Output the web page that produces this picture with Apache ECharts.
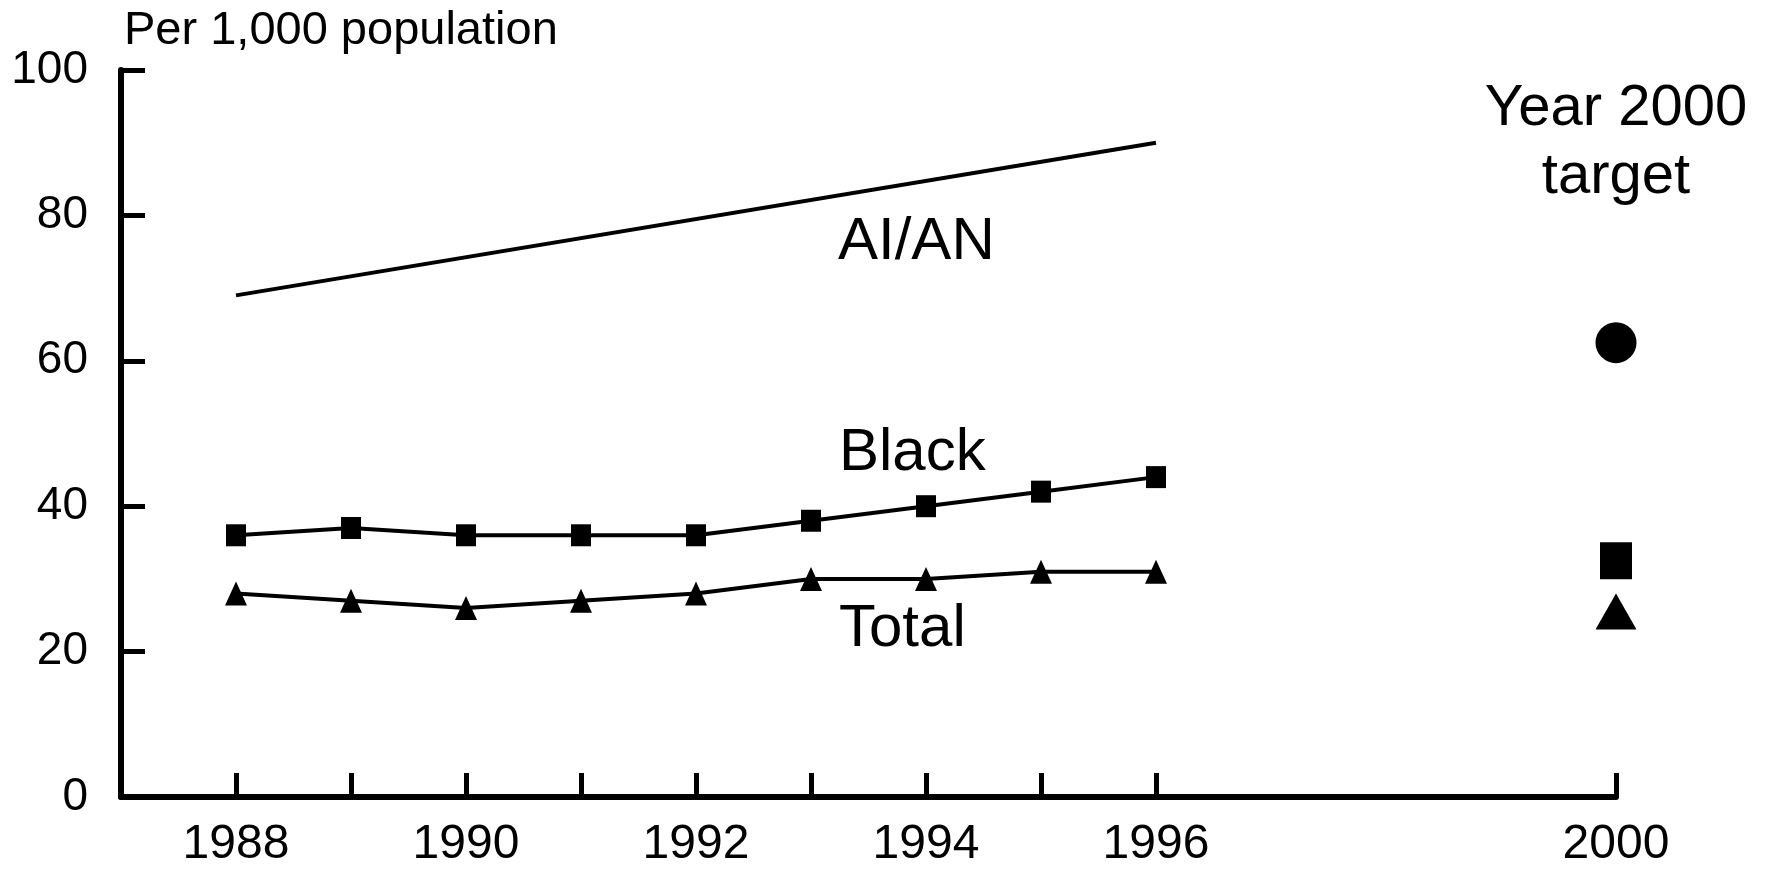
<!DOCTYPE html>
<html>
<head>
<meta charset="utf-8">
<script src="https://cdn.jsdelivr.net/npm/echarts@6/dist/echarts.min.js"></script>
<style>
html,body{margin:0;padding:0;background:#fff;}
#chart{width:1767px;height:869px;}
</style>
</head>
<body>
<div id="chart"></div>
<script>
// ---- data ----
const categories = ['1987','1988','1989','1990','1991','1992','1993','1994','1995','1996','1997','1998','1999','2000'];
const tickedYears = ['1988','1989','1990','1991','1992','1993','1994','1995','1996','2000'];
const labeledYears = ['1988','1990','1992','1994','1996','2000'];
const trendYears = ['1988','1989','1990','1991','1992','1993','1994','1995','1996'];
const blackRates = [36, 37, 36, 36, 36, 38, 40, 42, 44];
const totalRates = [28, 27, 26, 27, 28, 30, 30, 31, 31];
const aianYears = ['1988', '1996'];
const aianRates = [69, 90];
const targetYear = '2000';
const targetGroups = ['AI/AN', 'Black', 'Total'];
const targetValues = [62.5, 32.5, 25.5];
const yTicks = [0, 20, 40, 60, 80, 100];

const FONT = '"Liberation Sans", Arial, sans-serif';
const chart = echarts.init(document.getElementById('chart'));

const option = {
  backgroundColor: '#ffffff',
  animation: false,
  grid: { left: 121, right: 151, top: 70, bottom: 72, containLabel: false },
  xAxis: {
    type: 'category',
    data: categories,
    boundaryGap: false,
    axisLine: { show: true, lineStyle: { color: '#000', width: 6 } },
    axisTick: {
      show: true, inside: true, length: 24,
      interval: (i, v) => tickedYears.includes(v),
      lineStyle: { color: '#000', width: 5 }
    },
    axisLabel: {
      interval: (i, v) => labeledYears.includes(v),
      color: '#000', fontSize: 48, fontFamily: FONT, margin: 24
    },
    splitLine: { show: false }
  },
  yAxis: {
    type: 'value',
    min: yTicks[0], max: yTicks[yTicks.length - 1], interval: 20,
    axisLine: { show: true, lineStyle: { color: '#000', width: 6 } },
    axisTick: { show: true, inside: true, length: 24, lineStyle: { color: '#000', width: 5 } },
    axisLabel: { color: '#000', fontSize: 46, fontFamily: FONT, margin: 33 },
    splitLine: { show: false }
  },
  series: [
    {
      name: 'AI/AN', type: 'line',
      data: aianYears.map((y, i) => [y, aianRates[i]]),
      showSymbol: false, symbol: 'none',
      lineStyle: { color: '#000', width: 4 }
    },
    {
      name: 'Black', type: 'line',
      data: trendYears.map((y, i) => [y, blackRates[i]]),
      symbol: 'rect', symbolSize: [20, 22],
      itemStyle: { color: '#000', opacity: 1 },
      lineStyle: { color: '#000', width: 4 }
    },
    {
      name: 'Total', type: 'line',
      data: trendYears.map((y, i) => [y, totalRates[i]]),
      symbol: 'triangle', symbolSize: [22, 24],
      itemStyle: { color: '#000', opacity: 1 },
      lineStyle: { color: '#000', width: 4 }
    },
    {
      name: 'Target', type: 'scatter',
      data: targetGroups.map((g, i) => ({
        value: [targetYear, targetValues[i]],
        symbol: ['circle', 'rect', 'triangle'][i],
        symbolSize: [[41, 41], [32, 37], [41, 36]][i]
      })),
      itemStyle: { color: '#000', opacity: 1 }
    }
  ],
  graphic: [
    { type: 'text', left: 124, top: 8, style: { text: 'Per 1,000 population', fontSize: 47, fontFamily: FONT, fill: '#000' } },
    { type: 'text', x: 838, y: 242, style: { text: 'AI/AN', fontSize: 60, fontFamily: FONT, fill: '#000', align: 'left', verticalAlign: 'middle' } },
    { type: 'text', x: 839, y: 453, style: { text: 'Black', fontSize: 60, fontFamily: FONT, fill: '#000', align: 'left', verticalAlign: 'middle' } },
    { type: 'text', x: 839, y: 629, style: { text: 'Total', fontSize: 60, fontFamily: FONT, fill: '#000', align: 'left', verticalAlign: 'middle' } },
    { type: 'text', x: 1616, y: 109, style: { text: 'Year 2000', fontSize: 58, fontFamily: FONT, fill: '#000', align: 'center', verticalAlign: 'middle' } },
    { type: 'text', x: 1616, y: 177, style: { text: 'target', fontSize: 58, fontFamily: FONT, fill: '#000', align: 'center', verticalAlign: 'middle' } }
  ]
};
chart.setOption(option);
</script>
</body>
</html>
